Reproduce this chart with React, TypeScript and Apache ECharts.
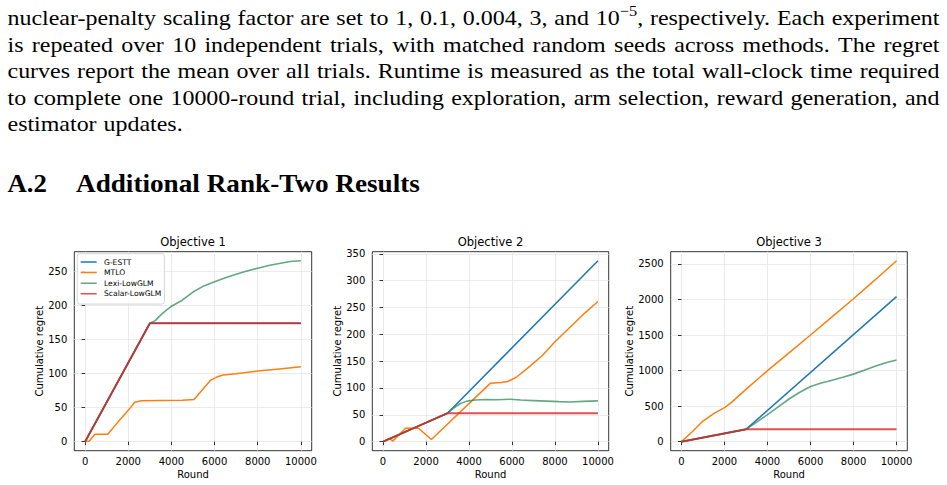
import React, { useEffect, useRef } from "react";
import * as echarts from "echarts";

// ---------------- Text content ----------------
const PARA_LINES = [
  "nuclear-penalty scaling factor are set to 1, 0.1, 0.004, 3, and 10^{−5}, respectively. Each experiment",
  "is repeated over 10 independent trials, with matched random seeds across methods. The regret",
  "curves report the mean over all trials. Runtime is measured as the total wall-clock time required",
  "to complete one 10000-round trial, including exploration, arm selection, reward generation, and",
  "estimator updates.",
];
const SECTION_NUM = "A.2";
const SECTION_TITLE = "Additional Rank-Two Results";

const TITLES = ["Objective 1", "Objective 2", "Objective 3"];
const X_NAME = "Round";
const Y_NAME = "Cumulative regret";
const NAMES = ["G-ESTT", "MTLO", "Lexi-LowGLM", "Scalar-LowGLM"];

// ---------------- Tick values ----------------
const X_TICKS = [0, 2000, 4000, 6000, 8000, 10000];
const Y_TICKS_1 = [0, 50, 100, 150, 200, 250];
const Y_TICKS_2 = [0, 50, 100, 150, 200, 250, 300, 350];
const Y_TICKS_3 = [0, 500, 1000, 1500, 2000, 2500];

// ---------------- Objective 1 ----------------
const o1_gestt_x = [0, 3000, 10000];
const o1_gestt_y = [0, 174, 174];
const o1_mtlo_x = [0, 200, 450, 1050, 1500, 2000, 2300, 2600, 3500, 4500, 5050, 5400, 5800, 6100, 6400, 7000, 8000, 9000, 10000];
const o1_mtlo_y = [0, 1, 11, 11, 28, 46, 58, 60, 60.5, 61, 62, 75, 90, 95, 98, 100, 104, 107, 110];
const o1_lexi_x = [0, 3000, 3250, 3500, 3750, 4000, 4500, 5000, 5500, 6000, 6500, 7000, 7500, 8000, 8500, 9000, 9500, 10000];
const o1_lexi_y = [0, 174, 178, 186, 193, 199, 208, 220, 229, 235, 241, 246, 251, 255, 259, 262, 265, 266];
const o1_scalar_x = [0, 3000, 10000];
const o1_scalar_y = [0, 174, 174];

// ---------------- Objective 2 ----------------
const o2_gestt_x = [0, 3000, 10000];
const o2_gestt_y = [0, 53, 337];
const o2_mtlo_x = [0, 300, 450, 1050, 1650, 2250, 5000, 5500, 5800, 6200, 6700, 7400, 8000, 8700, 9400, 10000];
const o2_mtlo_y = [0, 6, 1, 25, 25, 4, 109, 110, 112, 120, 136, 160, 186, 213, 240, 261];
const o2_lexi_x = [0, 3000, 3300, 3600, 3900, 4300, 4800, 5300, 5900, 6400, 7000, 7600, 8200, 8700, 9300, 10000];
const o2_lexi_y = [0, 53, 63, 71, 75.5, 77.5, 78.5, 78, 79, 77.5, 76.5, 75.5, 74.5, 74, 75, 76];
const o2_scalar_x = [0, 3000, 10000];
const o2_scalar_y = [0, 53, 53];

// ---------------- Objective 3 ----------------
const o3_gestt_x = [0, 3000, 10000];
const o3_gestt_y = [0, 173, 2041];
const o3_mtlo_x = [0, 500, 1000, 1500, 2000, 2300, 3000, 4000, 5000, 6000, 7000, 8000, 9000, 10000];
const o3_mtlo_y = [0, 140, 290, 395, 480, 545, 735, 1000, 1250, 1500, 1755, 2010, 2275, 2545];
const o3_lexi_x = [0, 3000, 3500, 4000, 4500, 5000, 5500, 6000, 6500, 7000, 7500, 8000, 8500, 9000, 9500, 10000];
const o3_lexi_y = [0, 173, 275, 380, 490, 600, 695, 775, 825, 865, 905, 950, 1005, 1060, 1110, 1150];
const o3_scalar_x = [0, 3000, 10000];
const o3_scalar_y = [0, 173, 173];

const PANELS = [
  { xs: [o1_gestt_x, o1_mtlo_x, o1_lexi_x, o1_scalar_x], ys: [o1_gestt_y, o1_mtlo_y, o1_lexi_y, o1_scalar_y], yTicks: Y_TICKS_1 },
  { xs: [o2_gestt_x, o2_mtlo_x, o2_lexi_x, o2_scalar_x], ys: [o2_gestt_y, o2_mtlo_y, o2_lexi_y, o2_scalar_y], yTicks: Y_TICKS_2 },
  { xs: [o3_gestt_x, o3_mtlo_x, o3_lexi_x, o3_scalar_x], ys: [o3_gestt_y, o3_mtlo_y, o3_lexi_y, o3_scalar_y], yTicks: Y_TICKS_3 },
];

// ---------------- Styling / layout ----------------
const COLORS = ["#1f77b4", "#ff7f0e", "rgba(46,139,87,0.75)", "rgba(214,39,40,0.8)"];
const WIDTHS = [1.5, 1.5, 1.6, 2];
const GRIDS = [
  { left: 74.3, top: 251.7, width: 237.4, height: 199 },
  { left: 372.3, top: 251.7, width: 236.4, height: 199 },
  { left: 670.7, top: 251.7, width: 236.6, height: 199 },
];
const Y_NAME_GAPS = [27, 29, 35];
const SANS = "'DejaVu Sans', sans-serif";
const SERIF = "'Liberation Serif', 'Times New Roman', serif";

function extent(ys: number[][]) {
  let mx = -Infinity, mn = Infinity;
  ys.forEach((a) => a.forEach((v) => { mx = Math.max(mx, v); mn = Math.min(mn, v); }));
  const pad = (mx - mn) * 0.05;
  return [mn - pad, mx + pad];
}

function buildTextGraphics(): any[] {
  const ctx = document.createElement("canvas").getContext("2d") as CanvasRenderingContext2D;
  const measure = (t: string, size: number, weight = "normal") => {
    ctx.font = `${weight} ${size}px ${SERIF}`;
    return ctx.measureText(t).width;
  };
  const FS = 22, SUP = 15, LEFT = 7.5, RIGHT = 939.5, BASE0 = 25.3, STEP = 26.6;
  const NAT_SPACE = 0.31 * FS;
  const els: any[] = [];
  const parsed = PARA_LINES.map((line) => {
    const words = line.split(" ");
    const segs = words.map((w) => {
      const m = w.match(/^(.*)\^\{(.*)\}(.*)$/);
      if (m) return [{ t: m[1], sup: false }, { t: m[2], sup: true }, { t: m[3], sup: false }];
      return [{ t: w, sup: false }];
    });
    const total = segs.reduce((acc, ss) => acc + ss.reduce((a, s) => a + measure(s.t, s.sup ? SUP : FS), 0), 0);
    return { words, segs, total };
  });
  // common horizontal glyph scale (serif substitute is narrower than the original face)
  let scale = Infinity;
  parsed.slice(0, -1).forEach((p) => {
    scale = Math.min(scale, (RIGHT - LEFT - (p.words.length - 1) * NAT_SPACE) / p.total);
  });
  scale = Math.max(1, Math.min(scale, 1.15));
  parsed.forEach((p, li) => {
    const justify = li < parsed.length - 1;
    const gap = justify ? (RIGHT - LEFT - p.total * scale) / (p.words.length - 1) : NAT_SPACE;
    const base = BASE0 + li * STEP;
    let x = LEFT;
    p.segs.forEach((ss) => {
      ss.forEach((s) => {
        if (!s.t) return;
        const size = s.sup ? SUP : FS;
        const b = s.sup ? base - 9 : base;
        els.push({
          type: "text", x, y: b - 0.34 * size, scaleX: scale, originX: 0, silent: true,
          style: { text: s.t, fontSize: size, fontFamily: SERIF, fill: "#000", align: "left", verticalAlign: "middle" },
        });
        x += measure(s.t, size) * scale;
      });
      x += gap;
    });
  });
  // Section heading
  const HFS = 25, HBASE = 192.6;
  const heads = [
    { t: SECTION_NUM, x: 7.5, w: 39.5 },
    { t: SECTION_TITLE, x: 76, w: 344 },
  ];
  heads.forEach((h) => {
    const nat = measure(h.t, HFS, "bold");
    els.push({
      type: "text", x: h.x, y: HBASE - 0.34 * HFS, scaleX: h.w / nat, originX: 0, silent: true,
      style: { text: h.t, fontSize: HFS, fontWeight: "bold", fontFamily: SERIF, fill: "#000", align: "left", verticalAlign: "middle" },
    });
  });
  // Panel titles
  GRIDS.forEach((g, i) => {
    els.push({
      type: "text", x: g.left + g.width / 2, y: 242, silent: true,
      style: { text: TITLES[i], fontSize: 11.5, fontFamily: SANS, fill: "#000", align: "center", verticalAlign: "middle" },
    });
  });
  return els;
}

export default function App() {
  const ref = useRef<HTMLDivElement>(null);
  useEffect(() => {
    if (!ref.current) return;
    const chart = echarts.init(ref.current, undefined, { renderer: "svg" });
    const labelStyle = { fontSize: 10, fontFamily: SANS, color: "#000" };
    const tickStyle = { color: "#000", width: 0.8 };
    const splitStyle = { color: "#e6e6e6", width: 0.8 };
    const xAxis: any[] = [];
    const yAxis: any[] = [];
    const series: any[] = [];
    PANELS.forEach((p, i) => {
      const [ymin, ymax] = extent(p.ys);
      xAxis.push({
        type: "value", gridIndex: i, min: -500, max: 10500,
        axisLine: { show: false },
        axisTick: { show: true, length: 3.5, lineStyle: tickStyle, customValues: X_TICKS },
        axisLabel: { customValues: X_TICKS, margin: 6, ...labelStyle, formatter: (v: number) => String(v) },
        splitLine: { show: true, lineStyle: splitStyle },
        name: X_NAME, nameLocation: "middle", nameGap: 19,
        nameTextStyle: { fontSize: 10, fontFamily: SANS, color: "#000" },
      });
      yAxis.push({
        type: "value", gridIndex: i, min: ymin, max: ymax,
        axisLine: { show: false },
        axisTick: { show: true, length: 3.5, lineStyle: tickStyle, customValues: p.yTicks },
        axisLabel: { customValues: p.yTicks, margin: 7, ...labelStyle, formatter: (v: number) => String(v) },
        splitLine: { show: true, lineStyle: splitStyle },
        name: Y_NAME, nameLocation: "middle", nameGap: Y_NAME_GAPS[i],
        nameTextStyle: { fontSize: 10, fontFamily: SANS, color: "#000" },
      });
      NAMES.forEach((name, k) => {
        series.push({
          type: "line", name, xAxisIndex: i, yAxisIndex: i,
          data: p.xs[k].map((x, j) => [x, p.ys[k][j]]),
          symbol: "none", showSymbol: false, silent: true,
          lineStyle: { color: COLORS[k], width: WIDTHS[k] },
          itemStyle: { color: COLORS[k] },
          emphasis: { disabled: true },
        });
      });
    });
    chart.setOption({
      animation: false,
      grid: GRIDS.map((g) => ({ ...g, show: true, borderColor: "#000", borderWidth: 0.8, backgroundColor: "transparent" })),
      xAxis, yAxis, series,
      legend: {
        data: NAMES, orient: "vertical", left: 77.3, top: 253.7,
        itemWidth: 18.3, itemHeight: 1.5, itemGap: 0,
        icon: "path://M0,0H16V1.5H0Z M18.3,0Z",
        padding: [3, 3, 5, 3.4],
        backgroundColor: "rgba(255,255,255,0.8)", borderColor: "#cccccc", borderWidth: 0.8, borderRadius: 2.5,
        textStyle: { fontSize: 7.6, fontFamily: SANS, color: "#000", lineHeight: 10.6 },
        selectedMode: false,
      },
      graphic: buildTextGraphics(),
    });
    return () => chart.dispose();
  }, []);
  return <div ref={ref} style={{ position: "absolute", left: 0, top: 0, width: 947, height: 485, background: "#fff" }} />;
}
